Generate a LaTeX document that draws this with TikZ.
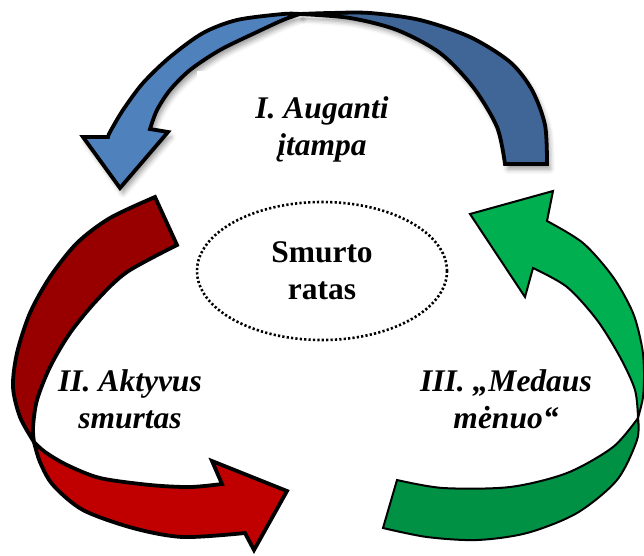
\documentclass[tikz,border=0pt]{standalone}
\usepackage{fontspec}
\setmainfont{Liberation Serif}
\usetikzlibrary{shapes.geometric, shadows.blur}

\definecolor{bluefront}{RGB}{79,129,189}
\definecolor{blueback}{RGB}{64,102,152}
\definecolor{redback}{RGB}{152,0,0}
\definecolor{redfront}{RGB}{192,0,0}
\definecolor{greenfront}{RGB}{0,176,80}
\definecolor{greenback}{RGB}{0,145,68}

\begin{document}
\begin{tikzpicture}[
    x=1pt, y=-1pt,
    ribbon/.style={draw=black, line width=3.8pt, line join=miter},
    thin ribbon/.style={draw=black, line width=2pt, line join=miter},
    soft shadow/.style={blur shadow={shadow xshift=3pt, shadow yshift=-5pt, shadow blur radius=5pt, shadow opacity=40}},
    phase/.style={font=\fontsize{31.5}{37}\selectfont\bfseries\itshape, align=center, inner sep=0pt},
    cycle name/.style={ellipse, draw, line width=2.6pt, dash pattern=on 2.2pt off 2.2pt,
        minimum width=250pt, minimum height=138pt, inner sep=0pt, align=center,
        font=\fontsize{31.5}{37}\selectfont\bfseries}
]
    \useasboundingbox (0,0) rectangle (644,555);

    % === Twist points and arrow tips ===
    \coordinate (blue twist) at (300,14);
    \coordinate (blue tip) at (120,188);
    \coordinate (red twist) at (34,442);
    \coordinate (red tip) at (287,491);
    \coordinate (green twist) at (638,418);
    \coordinate (green tip) at (470,214);

    % === I: blue arrow (back face on the right, front face with head) ===
    \filldraw[ribbon, fill=blueback, soft shadow]
        plot[smooth] coordinates {(blue twist) (330,13) (370,13) (420,20) (470,37) (510,62) (532,90) (545,125) (547,164)}
        -- (505,164)
        -- plot[smooth] coordinates {(505,164) (497,127) (473,87) (440,53) (397,30) (350,18) (blue twist)} -- cycle;
    \filldraw[ribbon, fill=bluefront, soft shadow]
        plot[smooth] coordinates {(blue twist) (283,14) (237,20) (203,33) (170,57) (143,83) (123,110) (110,132) (108,137)}
        -- (83,137) -- (blue tip) -- (168,132) -- (150,129)
        -- plot[smooth] coordinates {(150,129) (157,110) (170,90) (190,70) (220,50) (257,32) (283,20) (blue twist)} -- cycle;

    % white text box cuts the shadow
    \node[phase, fill=white, minimum width=251pt, minimum height=116pt] (stage one) at (322,129) {I. Auganti\\įtampa};

    % === II: red arrow ===
    \filldraw[ribbon, fill=redback]
        plot[smooth] coordinates {(red twist) (20,417) (13,387) (17,353) (30,313) (50,277) (77,243) (110,218) (155,197)}
        -- (177,245)
        -- plot[smooth] coordinates {(177,245) (127,272) (97,300) (70,333) (50,367) (37,400) (33,427) (red twist)} -- cycle;
    \filldraw[ribbon, fill=redfront]
        plot[smooth] coordinates {(red twist) (45,452) (67,465) (100,478) (150,485) (190,487) (222,484)}
        -- (212,461) -- (red tip) -- (254,550) -- (245,533)
        -- plot[smooth] coordinates {(245,533) (183,537) (133,528) (83,510) (53,485) (40,462) (red twist)} -- cycle;

    % === III: green arrow ===
    \filldraw[thin ribbon, fill=greenback]
        plot[smooth] coordinates {(green twist) (613,447) (567,473) (510,487) (443,488) (397,480)}
        -- (383,528)
        -- plot[smooth] coordinates {(383,528) (427,537) (477,540) (527,533) (577,513) (617,480) (637,440) (green twist)} -- cycle;
    \filldraw[thin ribbon, fill=greenfront]
        plot[smooth] coordinates {(green twist) (643,397) (644,372) (642,347) (633,313) (613,277) (583,243) (547,221)}
        -- (553,191) -- (green tip) -- (525,297) -- (533,268)
        -- plot[smooth] coordinates {(533,268) (567,287) (597,320) (620,357) (635,390) (green twist)} -- cycle;

    % === Labels ===
    \node[phase] (stage two) at (130,399) {II. Aktyvus\\smurtas};
    \node[phase] (stage three) at (506,399) {III. „Medaus\\mėnuo“};
    \node[cycle name] (cycle) at (322,271) {Smurto\\ratas};

\end{tikzpicture}
\end{document}
